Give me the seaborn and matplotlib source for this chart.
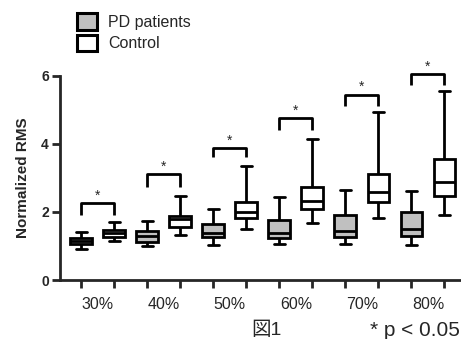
import pandas as pd
import seaborn as sns
import matplotlib.pyplot as plt
from matplotlib.patches import Patch

levels = ['30%', '40%', '50%', '60%', '70%', '80%']
groups = ['PD patients', 'Control']

# min, q1, median, q3, max (whiskers are min to max)
pd_stats = [
  [0.91, 1.06, 1.15, 1.24, 1.42],
  [0.99, 1.11, 1.29, 1.44, 1.73],
  [1.03, 1.25, 1.37, 1.65, 2.09],
  [1.05, 1.23, 1.39, 1.76, 2.43],
  [1.05, 1.26, 1.45, 1.91, 2.63],
  [1.03, 1.29, 1.49, 1.99, 2.62],
]
control_stats = [
  [1.15, 1.27, 1.38, 1.47, 1.71],
  [1.32, 1.57, 1.79, 1.89, 2.48],
  [1.50, 1.83, 2.01, 2.30, 3.35],
  [1.66, 2.08, 2.33, 2.74, 4.14],
  [1.83, 2.30, 2.57, 3.11, 4.92],
  [1.91, 2.48, 2.89, 3.55, 5.54],
]

# significance brackets: (top, leg end)
bracket_top = [2.25, 3.11, 3.88, 4.75, 5.44, 6.05]
bracket_leg = [1.90, 2.74, 3.60, 4.41, 5.12, 5.71]

rows = []
for level, p, c in zip(levels, pd_stats, control_stats):
  for group, vals in ((groups[0], p), (groups[1], c)):
    for v in vals:
      rows.append({'slot': f'{level} {group}', 'group': group, 'value': v})
df = pd.DataFrame(rows)
order = [f'{l} {g}' for l in levels for g in groups]

colors = {'PD patients': '#c0c0c0', 'Control': 'white'}

sns.set_style('ticks')
plt.rcParams['font.family'] = ['Liberation Sans', 'Noto Sans CJK JP', 'DejaVu Sans']

fig = plt.figure(figsize=(4.61, 3.39), dpi=100)
ax = fig.add_axes([0.130, 0.174, 0.870, 0.603])

sns.boxplot(
  data=df, x='slot', y='value', hue='group', order=order,
  hue_order=groups, palette=colors, dodge=False, whis=(0, 100),
  width=0.66, linecolor='black', linewidth=2, fliersize=0,
  legend=False, ax=ax
)

for i in range(len(levels)):
  a, b = 2 * i, 2 * i + 1
  ax.plot([a, a, b, b], [bracket_leg[i], bracket_top[i], bracket_top[i], bracket_leg[i]],
          color='black', lw=2, clip_on=False, solid_capstyle='butt')
  ax.text((a + b) / 2, bracket_top[i] + 0.22, '*', ha='center', va='center',
          fontsize=10, clip_on=False)

ax.set_xlim(-0.64, 11.5)
ax.set_ylim(0, 6)
ax.set_yticks([0, 2, 4, 6])
ax.set_xticks(range(12), labels=[''] * 12)
ax.set_xticks([2 * i + 0.5 for i in range(len(levels))], labels=levels, minor=True)
ax.tick_params(axis='x', which='major', length=6, width=2)
ax.tick_params(axis='x', which='minor', length=0, labelsize=11.5, pad=12)
ax.tick_params(axis='y', length=6, width=2, labelsize=10, pad=2)
for t in ax.get_yticklabels():
  t.set_fontweight('bold')
ax.set_xlabel('')
ax.set_ylabel('Normalized RMS', fontsize=11, fontweight='bold', labelpad=8)
sns.despine(ax=ax)
for s in ('left', 'bottom'):
  ax.spines[s].set_linewidth(2)

handles = [Patch(facecolor=colors[g], edgecolor='black', linewidth=2.2) for g in groups]
fig.legend(handles, groups, loc='upper left', bbox_to_anchor=(0.168, 0.962),
           frameon=False, fontsize=11.5, handlelength=1.25, handleheight=1.25,
           labelspacing=0.3, handletextpad=0.65, borderpad=0, borderaxespad=0)

fig.text(0.577, 0.025, '図1', fontsize=14, ha='center', va='center')
fig.text(0.802, 0.025, '* p < 0.05', fontsize=15, ha='left', va='center')

fig.savefig('out.png', dpi=100)
